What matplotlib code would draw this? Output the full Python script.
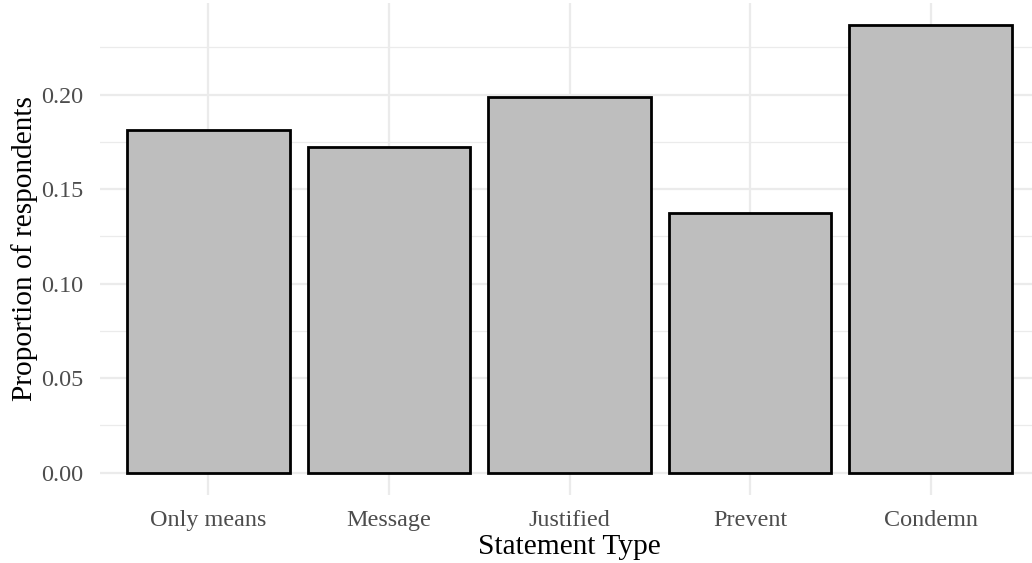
import matplotlib.pyplot as plt
from matplotlib.ticker import MultipleLocator

plt.rcParams['font.family'] = ['Liberation Serif', 'DejaVu Serif']

categories = ['Only means', 'Message', 'Justified', 'Prevent', 'Condemn']
proportions = [0.1815, 0.1725, 0.1988, 0.1375, 0.2367]
y_ticks = [0.00, 0.05, 0.10, 0.15, 0.20]

W, H = 1032, 563
fig = plt.figure(figsize=(W / 100, H / 100), dpi=100)
# panel in pixels: left 100, right 1039, top 3, bottom 495
ax = fig.add_axes([100 / W, (H - 495) / H, 939 / W, 492 / H])

x = list(range(1, len(categories) + 1))
ax.bar(x, proportions, width=0.9, color='#BEBEBE', edgecolor='black',
       linewidth=2.0, zorder=3)

ax.set_xlim(0.4, 5.6)
ymax = max(proportions) * 1.05
ax.set_ylim(-ymax / 1.05 * 0.05, ymax)

ax.set_xticks(x)
ax.set_xticklabels(categories)
ax.set_yticks(y_ticks)
ax.set_yticklabels([f'{v:.2f}' for v in y_ticks])
ax.yaxis.set_minor_locator(MultipleLocator(0.025))

ax.grid(which='major', axis='both', color='#EBEBEB', linewidth=1.6, zorder=0)
ax.grid(which='minor', axis='y', color='#EBEBEB', linewidth=0.9, zorder=0)
ax.set_axisbelow(True)
for s in ax.spines.values():
    s.set_visible(False)
ax.tick_params(which='both', length=0)
ax.tick_params(axis='y', pad=12, labelsize=17.4, labelcolor='#4D4D4D')
ax.tick_params(axis='x', pad=11, labelsize=17.4, labelcolor='#4D4D4D')

ax.set_xlabel('Statement Type', fontsize=21.2, labelpad=2)
ax.set_ylabel('Proportion of respondents', fontsize=21.2, labelpad=2)

fig.savefig('out.png', dpi=100)
